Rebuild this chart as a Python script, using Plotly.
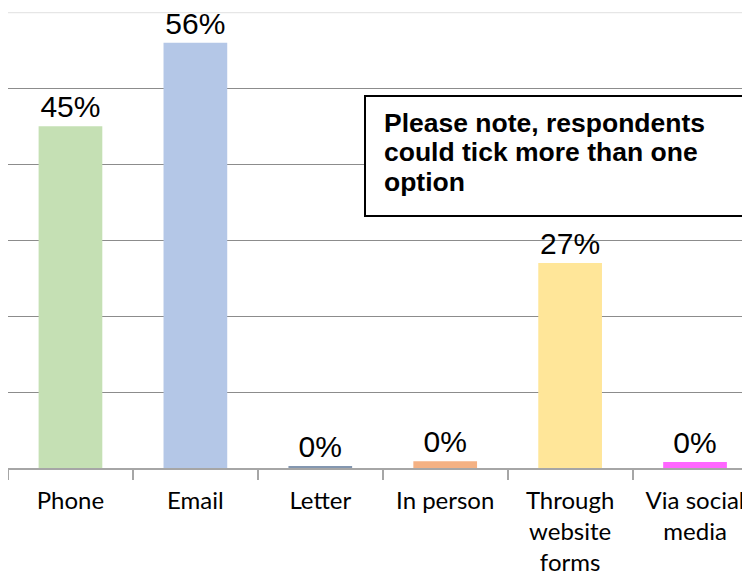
"""
Contact method chart - respondents could tick more than one option.
"""
import plotly.graph_objects as go

categories = ["Phone", "Email", "Letter", "In person",
              "Through<br>website<br>forms", "Via social<br>media"]
values = [45, 56, 0.15, 0.9, 27, 0.8]
value_labels = ["45%", "56%", "0%", "0%", "27%", "0%"]
bar_colors = ["#c5e0b4", "#b4c7e7", "#8497b0", "#f4b183", "#ffe699", "#ff66ff"]
grid_ticks = [10, 20, 30, 40, 50]
y_max = 60

note_lines = ["Please note, respondents", "could tick more than one", "option"]

# figure geometry (the page body adds an 8px margin, so size to fit the window)
W, H = 742, 568
M_T, M_B = 4, 108
PLOT_H = H - M_T - M_B


def px_x(x):
    return x / W


def px_y(y):
    return (H - M_B - y) / PLOT_H


fig = go.Figure()
fig.add_trace(go.Bar(
    x=categories, y=values,
    marker=dict(color=bar_colors, line=dict(width=0)),
    text=value_labels,
    textposition="outside",
    textfont=dict(family="Liberation Sans, Arial", size=30, color="#000000"),
    cliponaxis=False,
    hoverinfo="skip",
))

# note box
fig.add_shape(
    type="rect", xref="paper", yref="paper",
    x0=px_x(357), x1=px_x(735), y0=px_y(208), y1=px_y(88),
    line=dict(color="#000000", width=2), fillcolor="white", layer="above",
)
for i, line in enumerate(note_lines):
    fig.add_annotation(
        text="<b>" + line + "</b>",
        xref="paper", yref="paper",
        x=px_x(374), y=px_y(114.5 + 29.5 * i),
        xanchor="left", yanchor="middle",
        showarrow=False,
        font=dict(family="Liberation Sans, Arial", size=26.5, color="#000000"),
    )

fig.update_layout(
    width=W, height=H,
    margin=dict(l=0, r=0, t=M_T, b=M_B),
    paper_bgcolor="white",
    plot_bgcolor="white",
    bargap=0.49,
    showlegend=False,
    xaxis=dict(
        range=[-0.5, 5.44],
        automargin=False,
        showline=True, linecolor="#a6a6a6", linewidth=1.5,
        ticks="outside", tickson="boundaries", ticklen=10,
        tickcolor="#a6a6a6", tickwidth=1.5,
        ticklabelstandoff=10,
        tickfont=dict(family="Lato, Calibri", size=24, color="#000000"),
        showgrid=False,
    ),
    yaxis=dict(
        range=[0, y_max + 0.05],
        automargin=False,
        tickmode="array", tickvals=grid_ticks,
        showticklabels=False,
        showgrid=True, gridcolor="#8c8c8c", gridwidth=1,
        zeroline=False, showline=False,
    ),
)
fig.add_shape(
    type="line", xref="paper", yref="y",
    x0=0, x1=1, y0=y_max, y1=y_max,
    line=dict(color="#e6e6e6", width=1.5),
)

fig.write_html("out.html")
